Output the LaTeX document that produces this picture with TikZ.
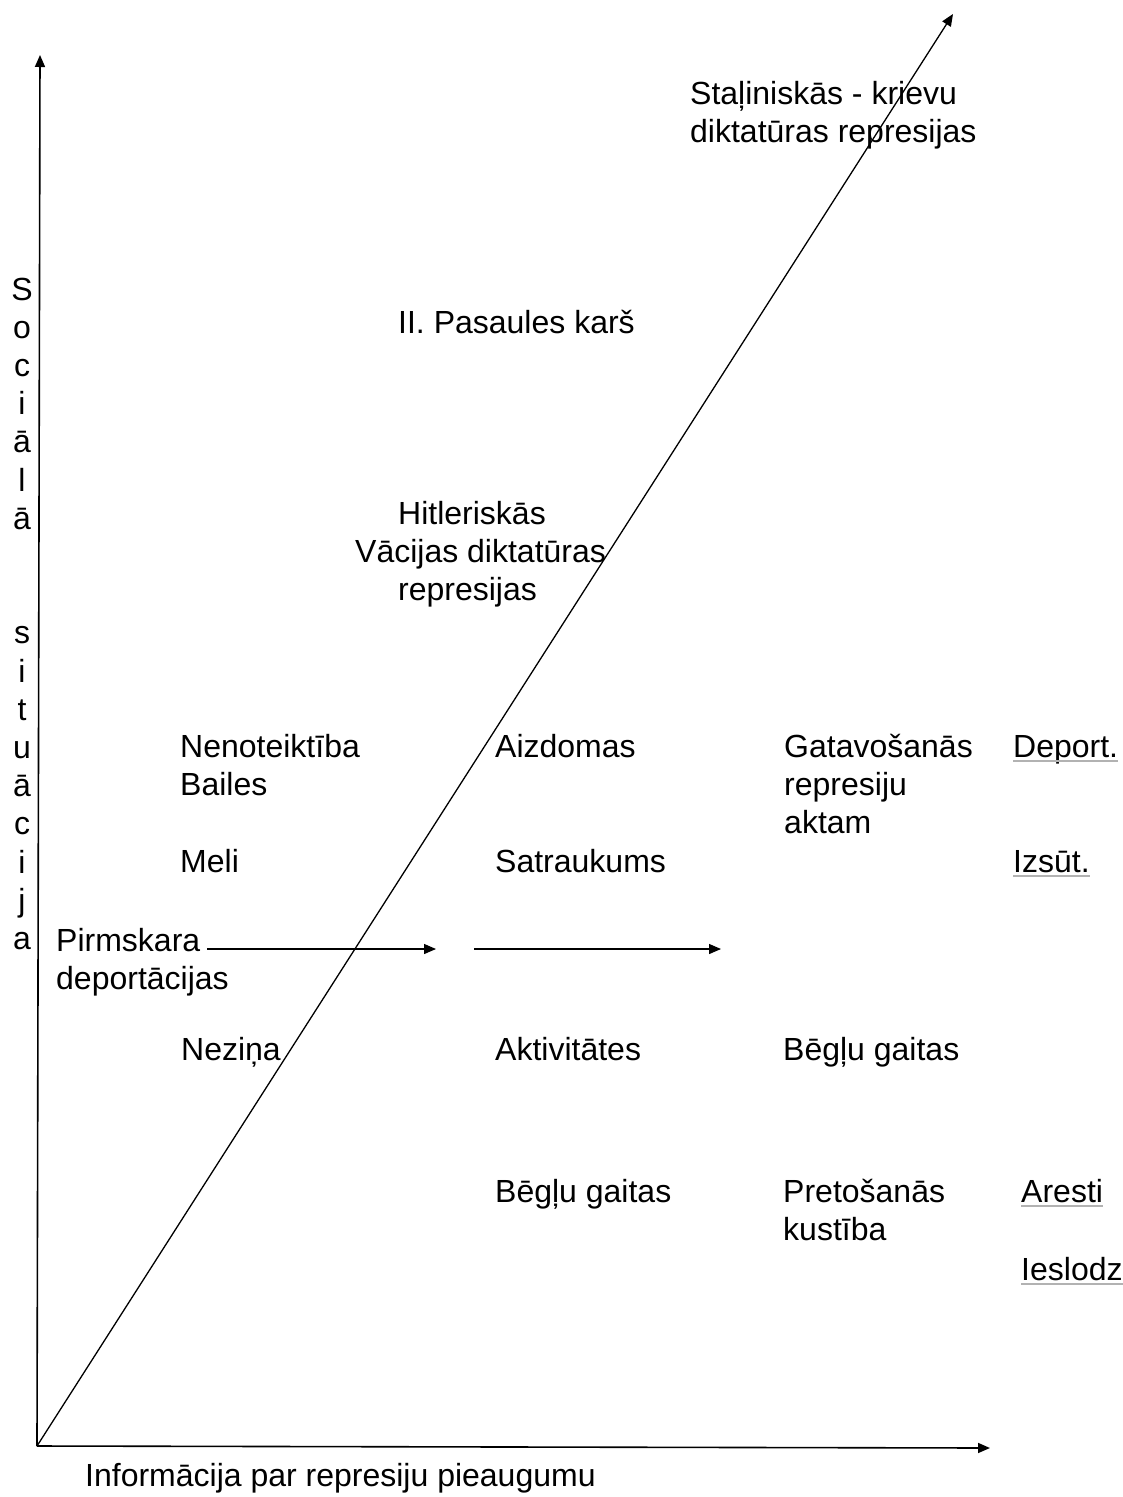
\documentclass[tikz,border=0pt]{standalone}
\usepackage{fontspec}
\setmainfont{Liberation Sans}
\usetikzlibrary{arrows.meta}
\newcommand{\ml}[1]{\begin{tabular}[t]{@{}l@{}}#1\end{tabular}}
\begin{document}
\begin{tikzpicture}[x=1pt,y=-1pt,
  lbl/.style={anchor=base west,inner sep=0pt,font=\fontsize{32}{38.2}\selectfont},
  axis/.style={line width=1.6pt,-{Triangle[length=12pt,width=10pt]}},
  uline/.style={gray!60,line width=1.2pt}]
\useasboundingbox (0,0) rectangle (1123,1497);
% axes
\coordinate (O) at (37,1446);
\coordinate (Ytop) at (40,55);
\coordinate (Xend) at (990,1448);
\coordinate (Dtop) at (953,14);
\draw[axis] (O) -- (Ytop);
\draw[axis] (O) -- (Xend);
\draw[axis,line width=1.3pt] (O) -- (Dtop);
% axis labels
\node[anchor=base,inner sep=0pt,font=\fontsize{32}{38.2}\selectfont] (ylab) at (22,300)
  {\begin{tabular}[t]{@{}c@{}}S\\o\\c\\i\\ā\\l\\ā\\ \\ \\s\\i\\t\\u\\ā\\c\\i\\j\\a\end{tabular}};
\node[lbl] (xlab) at (85,1486) {Informācija par represiju pieaugumu};
% labels
\node[lbl] (stal) at (690,104) {\ml{Staļiniskās - krievu\\diktatūras represijas}};
\node[lbl] (war) at (398,333) {II. Pasaules karš};
\node[lbl] (hit) at (355,524) {\ml{\hspace{43pt}Hitleriskās\\Vācijas diktatūras\\\hspace{43pt}represijas}};
\node[lbl] (nen) at (180,757) {\ml{Nenoteiktība\\Bailes}};
\node[lbl] (meli) at (180,872) {Meli};
\node[lbl] (pirm) at (56,951) {\ml{Pirmskara\\deportācijas}};
\node[lbl] (nez) at (181,1060) {Neziņa};
\node[lbl] (aizd) at (495,757) {Aizdomas};
\node[lbl] (satr) at (495,872) {Satraukums};
\node[lbl] (akt) at (495,1060) {Aktivitātes};
\node[lbl] (beg1) at (495,1202) {Bēgļu gaitas};
\node[lbl] (gat) at (784,757) {\ml{Gatavošanās\\represiju\\aktam}};
\node[lbl] (beg2) at (783,1060) {Bēgļu gaitas};
\node[lbl] (pret) at (783,1202) {\ml{Pretošanās\\kustība}};
\node[lbl] (dep) at (1013,757) {Deport.};
\node[lbl] (izs) at (1013,872) {Izsūt.};
\node[lbl] (are) at (1021,1202) {Aresti};
\node[lbl] (ies) at (1021,1280) {Ieslodz};
\foreach \n in {dep,izs,are,ies}
  \draw[uline] ([yshift=-4pt]\n.base west) -- ([yshift=-4pt]\n.base east);
% horizontal arrows
\coordinate (a1s) at (207,949);
\coordinate (a1e) at (436,949);
\coordinate (a2s) at (474,949);
\coordinate (a2e) at (721,949);
\draw[axis,line width=1.3pt] (a1s) -- (a1e);
\draw[axis,line width=1.3pt] (a2s) -- (a2e);
\end{tikzpicture}
\end{document}
